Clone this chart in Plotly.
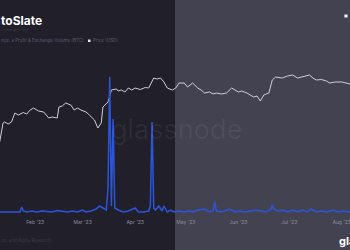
import plotly.graph_objects as go

# ---- data ----
price_dates = ["2023-01-11", "2023-01-13", "2023-01-14", "2023-01-16", "2023-01-18", "2023-01-20",
               "2023-01-22", "2023-01-25", "2023-01-27", "2023-01-29", "2023-01-31", "2023-02-03",
               "2023-02-06", "2023-02-09", "2023-02-11", "2023-02-14", "2023-02-15", "2023-02-17",
               "2023-02-19", "2023-02-22", "2023-02-24", "2023-02-26", "2023-02-28", "2023-03-03",
               "2023-03-05", "2023-03-08", "2023-03-10", "2023-03-12", "2023-03-13", "2023-03-16",
               "2023-03-18", "2023-03-21", "2023-03-22", "2023-03-24", "2023-03-26", "2023-03-28",
               "2023-03-30", "2023-04-01", "2023-04-04", "2023-04-07", "2023-04-09", "2023-04-12",
               "2023-04-14", "2023-04-16", "2023-04-18", "2023-04-20", "2023-04-23", "2023-04-25",
               "2023-04-27", "2023-04-30", "2023-05-02", "2023-05-05", "2023-05-08", "2023-05-10",
               "2023-05-12", "2023-05-15", "2023-05-17", "2023-05-19", "2023-05-22", "2023-05-25",
               "2023-05-28", "2023-06-01", "2023-06-03", "2023-06-06", "2023-06-10", "2023-06-12",
               "2023-06-14", "2023-06-16", "2023-06-19", "2023-06-21", "2023-06-23", "2023-06-27",
               "2023-06-30", "2023-07-03", "2023-07-06", "2023-07-09", "2023-07-13", "2023-07-15",
               "2023-07-17", "2023-07-20", "2023-07-23", "2023-07-25", "2023-07-28", "2023-08-01",
               "2023-08-03", "2023-08-06"]
price_usd = [17400, 21200, 21400, 21000, 21400, 23200,
             22800, 23300, 23000, 23800, 24200, 23600,
             23400, 22200, 22400, 22200, 24400, 24600,
             25200, 24800, 23800, 24200, 23800, 23400,
             22800, 21800, 20200, 21200, 24400, 25400,
             27800, 28000, 27600, 27800, 27400, 28200,
             27800, 28200, 27900, 28300, 28200, 30200,
             30000, 30200, 29400, 28200, 27800, 28200,
             29200, 29200, 28400, 29200, 28200, 27800,
             27200, 27400, 27000, 27200, 27000, 27200,
             28200, 27400, 27600, 27200, 26400, 26600,
             25600, 26800, 27200, 29800, 30400, 30200,
             30600, 30800, 30200, 30400, 30800, 30200,
             29800, 29900, 29600, 29200, 29400, 29400,
             29200, 29000]

vol_dates = ["2023-01-11", "2023-01-14", "2023-01-17", "2023-01-20", "2023-01-23", "2023-01-24",
             "2023-01-25", "2023-01-27", "2023-01-30", "2023-02-02", "2023-02-05", "2023-02-08",
             "2023-02-11", "2023-02-14", "2023-02-17", "2023-02-20", "2023-02-23", "2023-02-26",
             "2023-03-01", "2023-03-03", "2023-03-06", "2023-03-09", "2023-03-11", "2023-03-13",
             "2023-03-15", "2023-03-16", "2023-03-17", "2023-03-18", "2023-03-19", "2023-03-20",
             "2023-03-22", "2023-03-25", "2023-03-28", "2023-04-01", "2023-04-03", "2023-04-06",
             "2023-04-09", "2023-04-10", "2023-04-11", "2023-04-12", "2023-04-13", "2023-04-15",
             "2023-04-17", "2023-04-18", "2023-04-20", "2023-04-22", "2023-04-24", "2023-04-27",
             "2023-04-30", "2023-05-03", "2023-05-05", "2023-05-08", "2023-05-12", "2023-05-15",
             "2023-05-17", "2023-05-18", "2023-05-19", "2023-05-22", "2023-05-24", "2023-05-27",
             "2023-05-30", "2023-06-02", "2023-06-05", "2023-06-08", "2023-06-11", "2023-06-14",
             "2023-06-17", "2023-06-20", "2023-06-21", "2023-06-22", "2023-06-24", "2023-06-27",
             "2023-06-30", "2023-07-03", "2023-07-06", "2023-07-09", "2023-07-12", "2023-07-14",
             "2023-07-17", "2023-07-20", "2023-07-23", "2023-07-27", "2023-07-30", "2023-08-02",
             "2023-08-06"]
vol_kbtc = [6, 6, 6, 6.5, 6, 11,
            7, 6, 7, 6, 7, 6.5,
            6, 7.5, 7, 6, 7, 6,
            8, 6, 7, 9, 12, 10,
            8, 30, 141, 12, 99, 10,
            8, 6, 7, 10, 6, 6,
            7, 12, 96, 10, 8, 12,
            7, 12, 6, 8, 6, 7,
            6, 7, 6, 8, 9, 6,
            7, 16, 7, 6, 7, 9,
            6, 7, 6, 7, 8, 7,
            6, 8, 13, 9, 7, 8,
            6, 8, 6, 8, 6, 9,
            6, 7, 6, 8, 6, 7,
            6]

tick_vals = ["2023-02-01", "2023-03-01", "2023-04-01", "2023-05-01", "2023-06-01", "2023-07-01", "2023-08-01"]
tick_text = ["Feb '23", "Mar '23", "Apr '23", "May '23", "Jun '23", "Jul '23", "Aug '23"]

H_PLOT = 218.0
def py(ypx):
    return (H_PLOT - ypx) / H_PLOT

fig = go.Figure()
fig.add_trace(go.Scatter(x=price_dates, y=price_usd, mode="lines", yaxis="y",
                         line=dict(color="#cfcfd8", width=1), hoverinfo="skip"))
fig.add_trace(go.Scatter(x=vol_dates, y=vol_kbtc, mode="lines", yaxis="y2",
                         line=dict(color="#2d55dc", width=1.5), hoverinfo="skip"))

fig.update_layout(
    width=350, height=250,
    margin=dict(l=0, r=0, t=0, b=32),
    paper_bgcolor="#201f2a",
    plot_bgcolor="rgba(0,0,0,0)",
    showlegend=False,
    xaxis=dict(type="date", range=["2023-01-11 05:00", "2023-08-05 22:00"],
               tickvals=tick_vals, ticktext=tick_text, ticklabeloverflow="allow",
               tickfont=dict(size=5, color="#8e8d9e", family="Inter"),
               showgrid=False, zeroline=False, showline=False, ticks=""),
    yaxis=dict(range=[2200, 45800], visible=False, showgrid=False),
    yaxis2=dict(range=[0, 218], overlaying="y", visible=False, showgrid=False),
    shapes=[
        dict(type="rect", xref="paper", yref="paper", x0=0.5, x1=1.05, y0=-0.5, y1=1.5,
             fillcolor="#434250", line=dict(width=0), layer="below"),
        dict(type="rect", xref="paper", yref="paper", x0=344.5/350, x1=347.5/350,
             y0=py(17.5), y1=py(14.5), fillcolor="#ffffff", line=dict(width=0)),
        dict(type="rect", xref="paper", yref="paper", x0=88/350, x1=90.5/350,
             y0=py(42), y1=py(39.5), fillcolor="#e8e8f0", line=dict(width=0)),
    ],
    annotations=[
        dict(text="<b>toSlate</b>", x=0, y=py(20.5), xref="paper", yref="paper", xanchor="left",
             yanchor="middle", showarrow=False, borderpad=0,
             font=dict(size=12, color="#ffffff", family="Inter")),
        dict(text="Exchange Inflow", x=0, y=py(29.5), xref="paper", yref="paper",
             xanchor="left", yanchor="middle", showarrow=False, borderpad=0,
             font=dict(size=3.5, color="#3a3947", family="Inter")),
        dict(text="nce: a Profit &amp; Exchange Volume (BTC)", x=0, y=py(41), xref="paper", yref="paper",
             xanchor="left", yanchor="middle", showarrow=False, borderpad=0,
             font=dict(size=4.5, color="#5e5d70", family="Inter")),
        dict(text="Price (USD)", x=92/350, y=py(41), xref="paper", yref="paper",
             xanchor="left", yanchor="middle", showarrow=False, borderpad=0,
             font=dict(size=4.5, color="#5e5d70", family="Inter")),
        dict(text="glassnode", x=177/350, y=py(129), xref="paper", yref="paper",
             xanchor="center", yanchor="middle", showarrow=False,
             font=dict(size=27, color="rgba(255,255,255,0.06)", family="Inter")),
        dict(text="ce: and Alpha Research", x=0, y=py(240.5), xref="paper", yref="paper",
             xanchor="left", yanchor="middle", showarrow=False, borderpad=0,
             font=dict(size=4.5, color="#3e3d4c", family="Inter")),
        dict(text="<b>glassnode</b>", x=338/350, y=py(241), xref="paper", yref="paper",
             xanchor="left", yanchor="middle", showarrow=False, borderpad=0,
             font=dict(size=11, color="#ffffff", family="Inter")),
    ],
)

fig.write_html("out.html")
